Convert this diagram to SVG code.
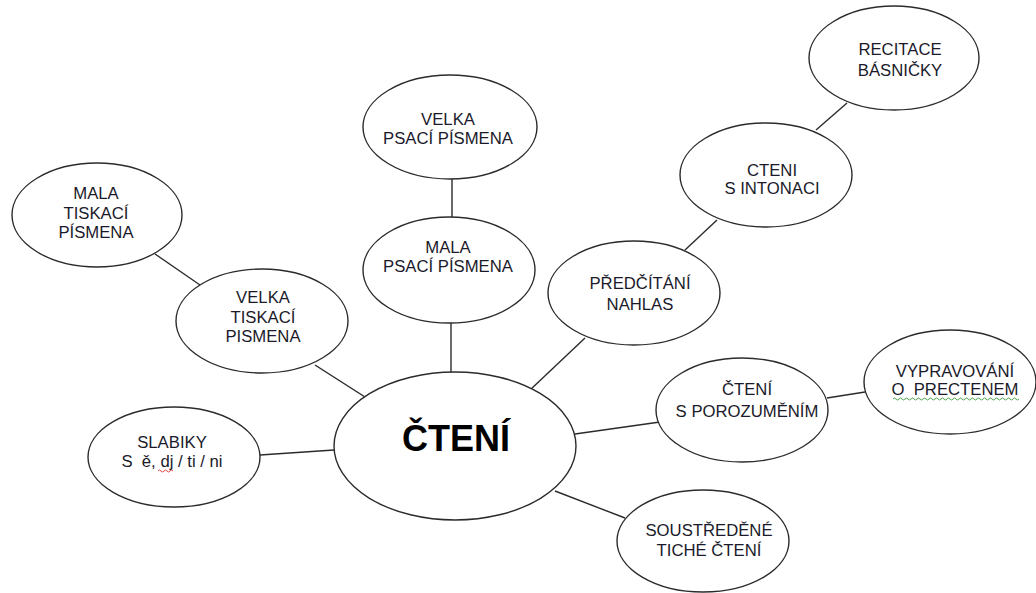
<svg xmlns="http://www.w3.org/2000/svg" width="1036" height="593" viewBox="0 0 1036 593">
<style>
.n ellipse{fill:#fff;stroke:#2b2b2b;stroke-width:1.4}
.n text{font-family:"Liberation Sans",Arial,sans-serif;font-size:16.7px;fill:#1a1a2a;text-anchor:middle;white-space:pre}
.c line{stroke:#2b2b2b;stroke-width:1.4}
.big{font-size:36px !important;font-weight:bold;fill:#000 !important}
</style>
<rect width="1036" height="593" fill="#fff"/>
<g class="c" id="connectors">
<line x1="155" y1="254" x2="200" y2="285"/>
<line x1="315" y1="365" x2="365" y2="397"/>
<line x1="452" y1="178" x2="452" y2="217"/>
<line x1="451" y1="322" x2="451" y2="373"/>
<line x1="685" y1="250" x2="717" y2="220"/>
<line x1="816" y1="130" x2="847" y2="103"/>
<line x1="585" y1="338" x2="530" y2="390"/>
<line x1="260" y1="455" x2="334" y2="450"/>
<line x1="575" y1="434" x2="660" y2="422"/>
<line x1="827" y1="398" x2="865" y2="392"/>
<line x1="555" y1="491" x2="625" y2="518"/>
</g>
<g class="n" id="node-mala-tiskaci">
<ellipse cx="97" cy="215" rx="85" ry="52"/>
<text x="96" y="199">MALA</text>
<text x="96" y="219">TISKACÍ</text>
<text x="96" y="238">PÍSMENA</text>
</g>
<g class="n" id="node-velka-tiskaci">
<ellipse cx="262" cy="321" rx="86" ry="52"/>
<text x="263" y="303">VELKA</text>
<text x="263" y="323">TISKACÍ</text>
<text x="263" y="342">PISMENA</text>
</g>
<g class="n" id="node-velka-psaci">
<ellipse cx="450" cy="127" rx="87" ry="52"/>
<text x="448" y="125">VELKA</text>
<text x="448" y="144">PSACÍ PÍSMENA</text>
</g>
<g class="n" id="node-mala-psaci">
<ellipse cx="449" cy="270" rx="86" ry="53"/>
<text x="448" y="253">MALA</text>
<text x="448" y="272">PSACÍ PÍSMENA</text>
</g>
<g class="n" id="node-predcitani">
<ellipse cx="634" cy="293" rx="86" ry="52"/>
<text x="640" y="289">PŘEDČÍTÁNÍ</text>
<text x="640" y="310">NAHLAS</text>
</g>
<g class="n" id="node-cteni-intonaci">
<ellipse cx="766" cy="175" rx="86" ry="52"/>
<text x="772" y="176">CTENI</text>
<text x="772" y="194">S INTONACI</text>
</g>
<g class="n" id="node-recitace">
<ellipse cx="894" cy="58" rx="85" ry="52"/>
<text x="900" y="55">RECITACE</text>
<text x="900" y="76">BÁSNIČKY</text>
</g>
<g class="n" id="node-slabiky">
<ellipse cx="174" cy="457" rx="86" ry="50"/>
<text x="172" y="448">SLABIKY</text>
<text x="172" y="467">S  ě, dj / ti / ni</text>
<path d="M158 471 q1.5 -2 3 0 t3 0 t3 0 t3 0 t3 0" fill="none" stroke="#e03030" stroke-width="0.9"/>
</g>
<g class="n" id="node-cteni">
<ellipse cx="455" cy="446" rx="121" ry="74"/>
<text x="456" y="451" class="big">ČTENÍ</text>
</g>
<g class="n" id="node-porozumeni">
<ellipse cx="742" cy="410" rx="86" ry="52"/>
<text x="747" y="395">ČTENÍ</text>
<text x="747" y="417">S POROZUMĚNÍM</text>
</g>
<g class="n" id="node-vypravovani">
<ellipse cx="950" cy="382" rx="86" ry="52"/>
<text x="955" y="377">VYPRAVOVÁNÍ</text>
<text x="955" y="395">O  PRECTENEM</text>
<path d="M893 399 q1.5 -2 3 0 t3 0 t3 0 t3 0 t3 0 t3 0 t3 0 t3 0 t3 0 t3 0 t3 0 t3 0 t3 0 t3 0 t3 0 t3 0 t3 0 t3 0 t3 0 t3 0 t3 0 t3 0 t3 0 t3 0 t3 0 t3 0 t3 0 t3 0 t3 0 t3 0 t3 0 t3 0 t3 0 t3 0 t3 0 t3 0 t3 0 t3 0 t3 0 t3 0 t3 0 t3 0" fill="none" stroke="#3a9a3a" stroke-width="0.9"/>
</g>
<g class="n" id="node-soustredene">
<ellipse cx="703" cy="541" rx="86" ry="51"/>
<text x="709" y="536">SOUSTŘEDĚNÉ</text>
<text x="709" y="556">TICHÉ ČTENÍ</text>
</g>
</svg>
